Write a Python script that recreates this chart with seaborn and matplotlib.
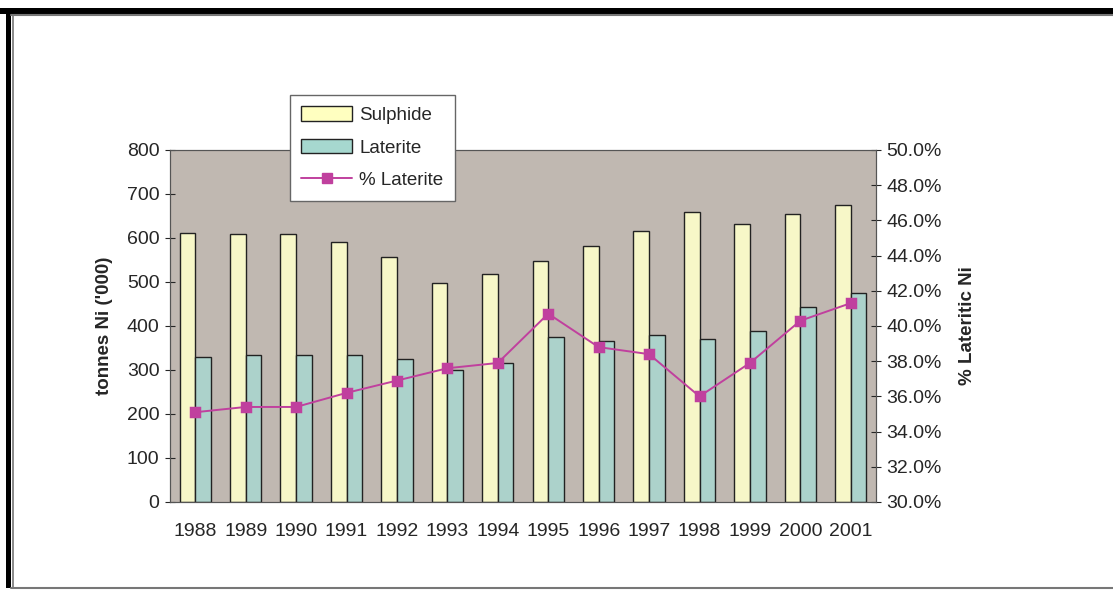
import numpy as np
import pandas as pd
import matplotlib
matplotlib.use("Agg")
import matplotlib.pyplot as plt
from matplotlib.patches import Rectangle
from matplotlib.lines import Line2D
from matplotlib.ticker import FixedLocator, FuncFormatter
import seaborn as sns

# data
years = ["1988", "1989", "1990", "1991", "1992", "1993", "1994",
         "1995", "1996", "1997", "1998", "1999", "2000", "2001"]
sulphide = [611, 608, 608, 591, 556, 497, 519, 548, 582, 617, 658, 632, 654, 675]
laterite = [329, 333, 333, 333, 324, 299, 316, 374, 367, 379, 371, 388, 444, 476]
pct_laterite = [35.1, 35.4, 35.4, 36.2, 36.9, 37.6, 37.9,
                40.7, 38.8, 38.4, 36.0, 37.9, 40.3, 41.3]

sul_color = "#FFFFC0"
lat_color = "#A6D8CF"
line_color = "#C0409E"
bg_color = "#C0B8B1"

sns.set_style("white")
plt.rcParams["font.family"] = ["Liberation Sans", "DejaVu Sans"]

df = pd.DataFrame({
    "year": years * 2,
    "tonnes": sulphide + laterite,
    "type": ["Sulphide"] * len(years) + ["Laterite"] * len(years),
})

fig = plt.figure(figsize=(11.13, 5.9), dpi=100)
ax = fig.add_axes([170 / 1113, 88 / 590, 706 / 1113, 352 / 590])
ax.set_facecolor(bg_color)

sns.barplot(
    data=df, x="year", y="tonnes", hue="type",
    palette=[sul_color, lat_color], width=0.62,
    edgecolor="#222222", linewidth=1.0, ax=ax, legend=False,
)

ax.set_xlim(-0.5, len(years) - 0.5)
ax.set_ylim(0, 800)
ax.set_yticks(range(0, 801, 100))
ax.set_xlabel("")
ax.set_ylabel("tonnes Ni ('000)", fontsize=13.5, fontweight="bold", labelpad=10)
ax.tick_params(axis="y", direction="inout", length=7, width=0.8, labelsize=14, pad=4)
ax.xaxis.set_major_locator(FixedLocator(np.arange(-0.5, len(years), 1.0)))
ax.xaxis.set_minor_locator(FixedLocator(np.arange(len(years))))
ax.xaxis.set_minor_formatter(FuncFormatter(lambda v, p: years[int(round(v))]))
ax.xaxis.set_major_formatter(FuncFormatter(lambda v, p: ""))
ax.tick_params(axis="x", which="major", direction="out", length=5, width=0.8)
ax.tick_params(axis="x", which="minor", length=0, labelsize=14, pad=15)

for s in ax.spines.values():
    s.set_color("#555555")
    s.set_linewidth(0.8)

ax2 = ax.twinx()
sns.pointplot(
    x=list(range(len(years))), y=pct_laterite, native_scale=True,
    color=line_color, marker="s", markersize=7.5, linewidth=1.4, ax=ax2,
)
ax2.set_xlim(-0.5, len(years) - 0.5)
ax2.set_ylim(30, 50)
ax2.set_yticks(np.arange(30, 50.1, 2))
ax2.yaxis.set_major_formatter(FuncFormatter(lambda v, p: f"{v:.1f}%"))
ax2.tick_params(axis="y", direction="inout", length=7, width=0.8, labelsize=14, pad=4)
ax2.set_ylabel("% Lateritic Ni", fontsize=13.5, fontweight="bold", labelpad=12)
for s in ax2.spines.values():
    s.set_color("#555555")
    s.set_linewidth(0.8)

handles = [
    Rectangle((0, 0), 1, 1, facecolor=sul_color, edgecolor="#222222", linewidth=1.0),
    Rectangle((0, 0), 1, 1, facecolor=lat_color, edgecolor="#222222", linewidth=1.0),
    Line2D([], [], color=line_color, marker="s", markersize=7.5, linewidth=1.4),
]
leg = fig.legend(
    handles, ["Sulphide", "Laterite", "% Laterite"],
    loc="upper left", bbox_to_anchor=(290 / 1113, 1 - 95 / 590),
    borderaxespad=0,
    fontsize=13.5, frameon=True, fancybox=False, framealpha=1,
    edgecolor="#666666", handlelength=2.7, handleheight=0.8,
    labelspacing=0.8, borderpad=0.6, handletextpad=0.4,
)
leg.get_frame().set_linewidth(1.0)

# page frame
W, H = 1113, 590
fig.add_artist(Rectangle((0, 1 - 14 / H), 1, 6 / H, transform=fig.transFigure,
                         facecolor="black", edgecolor="none"))
fig.add_artist(Rectangle((6 / W, 2 / H), 5 / W, 1 - 16 / H, transform=fig.transFigure,
                         facecolor="black", edgecolor="none"))
fig.add_artist(Line2D([11 / W, 1], [1 - 15 / H, 1 - 15 / H], transform=fig.transFigure,
                      color="#777777", linewidth=1.5))
fig.add_artist(Line2D([12.5 / W, 12.5 / W], [2 / H, 1 - 15 / H], transform=fig.transFigure,
                      color="#777777", linewidth=1.2))
fig.add_artist(Line2D([11 / W, 1], [2 / H, 2 / H], transform=fig.transFigure,
                      color="#777777", linewidth=1.5))

fig.savefig("out.png", dpi=100, facecolor="white")
